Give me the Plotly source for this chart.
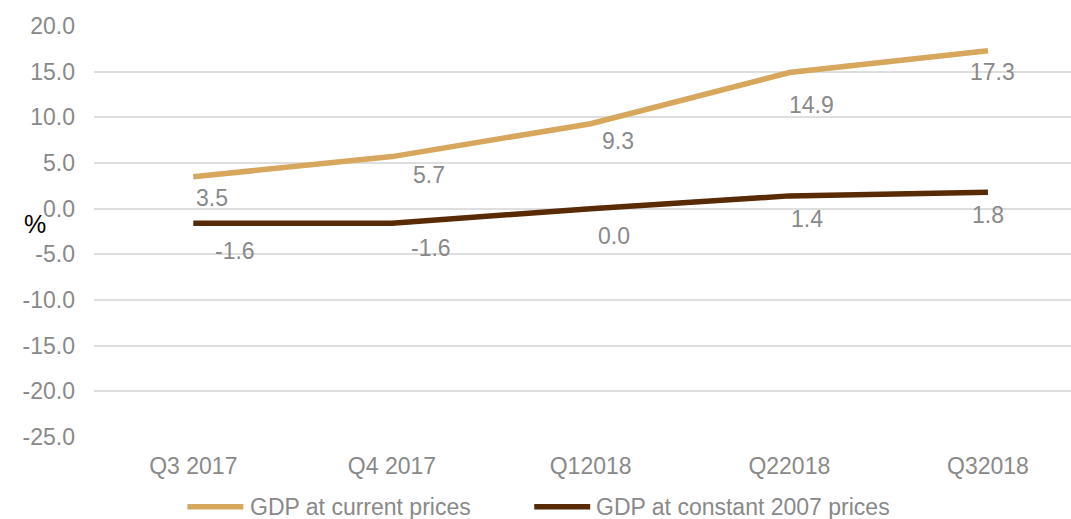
import plotly.graph_objects as go

categories = ["Q3 2017", "Q4 2017", "Q12018", "Q22018", "Q32018"]
current_prices = [3.5, 5.7, 9.3, 14.9, 17.3]
constant_prices = [-1.6, -1.6, 0.0, 1.4, 1.8]
series_names = ["GDP at current prices", "GDP at constant 2007 prices"]
y_ticks = [20, 15, 10, 5, 0, -5, -10, -15, -20, -25]

# label offsets in pixels (dx right, dy down)
cur_offsets = [(19, 21), (37, 18), (27, 17), (22, 32), (5, 21)]
con_offsets = [(42, 28), (39, 25), (23, 27), (18, 23), (0, 23)]

ORANGE = "#D6A75C"
BROWN = "#582A05"
GREY = "#898989"
FONT = "Liberation Sans, Arial, sans-serif"
FS = 23

fig = go.Figure()
fig.add_trace(go.Scatter(x=categories, y=current_prices, mode="lines",
                         line=dict(color=ORANGE, width=5.5), name=series_names[0]))
fig.add_trace(go.Scatter(x=categories, y=constant_prices, mode="lines",
                         line=dict(color=BROWN, width=5.5), name=series_names[1]))

annotations = []
for vals, offs in ((current_prices, cur_offsets), (constant_prices, con_offsets)):
    for c, v, (dx, dy) in zip(categories, vals, offs):
        annotations.append(dict(x=c, y=v, text=f"{v:.1f}", showarrow=False,
                                xshift=dx, yshift=-dy,
                                font=dict(family=FONT, size=FS, color=GREY)))

annotations.append(dict(xref="paper", yref="paper", x=-0.0722, y=0.518, text="%",
                        showarrow=False, borderpad=0,
                        font=dict(family=FONT, size=25, color="#000000")))

# manual legend
leg_y = -0.170
shapes = []
for (x0, x1, xt, col, name) in ((0.0956, 0.1529, 0.158, ORANGE, series_names[0]),
                                (0.4506, 0.5079, 0.512, BROWN, series_names[1])):
    shapes.append(dict(type="line", xref="paper", yref="paper", x0=x0, x1=x1,
                       y0=leg_y, y1=leg_y, line=dict(color=col, width=5.5)))
    annotations.append(dict(xref="paper", yref="paper", x=xt, y=leg_y, xanchor="left",
                            yanchor="middle", text=name, showarrow=False,
                            font=dict(family=FONT, size=FS, color=GREY)))

fig.update_layout(
    width=1071, height=519,
    margin=dict(l=93.6, r=0, t=26, b=82),
    paper_bgcolor="white", plot_bgcolor="white",
    showlegend=False,
    font=dict(family=FONT, size=FS, color=GREY),
    xaxis=dict(type="category", range=[-0.5, 4.418], showgrid=False, zeroline=False,
               showline=False, ticks="", ticklabelstandoff=13,
               tickfont=dict(family=FONT, size=FS, color=GREY)),
    yaxis=dict(range=[-25, 20], tickvals=y_ticks,
               ticktext=[f"{t:.1f}" for t in y_ticks],
               showgrid=True, gridcolor="#dedede", gridwidth=1.5,
               zeroline=False, showline=False, ticks="", ticklabelstandoff=18,
               tickfont=dict(family=FONT, size=FS, color=GREY)),
    annotations=annotations,
    shapes=shapes,
)

fig.write_html("out.html", config={"displayModeBar": False},
               post_script="document.body.style.margin='0';document.body.style.overflow='hidden';")
